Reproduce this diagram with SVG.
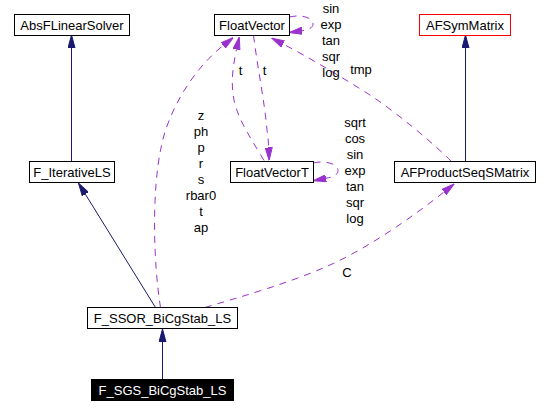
<svg xmlns="http://www.w3.org/2000/svg" width="549" height="414" viewBox="0 0 549 414">
<style>
text{font-family:"Liberation Sans",Arial,sans-serif;font-size:13px;fill:#000;text-anchor:middle}
.node rect{fill:#fff;stroke:#000;stroke-width:1}
.inh{fill:none;stroke:#191970;stroke-width:1;marker-end:url(#ah-inh)}
.col{fill:none;stroke:#9a32cd;stroke-width:1;stroke-dasharray:7,6;marker-end:url(#ah-col)}
</style>
<defs>
<marker id="ah-inh" markerUnits="userSpaceOnUse" viewBox="0 0 13 8" refX="0" refY="4" markerWidth="13" markerHeight="8" orient="auto">
<path d="M0,0.5 L13,4 L0,7.5 z" fill="#191970" stroke="#191970" stroke-width="1"/>
</marker>
<marker id="ah-col" markerUnits="userSpaceOnUse" viewBox="0 0 13 8" refX="0" refY="4" markerWidth="13" markerHeight="8" orient="auto">
<path d="M0,0.5 L13,4 L0,7.5 z" fill="#9a32cd" stroke="#9a32cd" stroke-width="1"/>
</marker>
</defs>
<rect x="0" y="0" width="549" height="414" fill="#fff"/>
<g id="connectors">
<path class="inh" d="M71.5,161 L71.5,48"/>
<path class="inh" d="M155.5,307.5 L85.3,194.1"/>
<path class="inh" d="M162.5,379 L162.5,342"/>
<path class="inh" d="M465.5,161 L465.5,48"/>
<path class="col" d="M160.5,307.5 C153,260 152,190 161,148 C167,115 190,72 223.2,45.5"/>
<path class="col" d="M264,160.5 C252,140 238,120 234,100 C231,85 232,70 236.5,49.5"/>
<path class="col" d="M253.5,35.5 C258,70 265,105 267,130 C268,137 268.5,142 268.7,147.5"/>
<path class="col" d="M289.5,17 C302,14 313,18 313,24 C313,28 308,30 302,30.8"/>
<path class="col" d="M313.5,163 C325,160 338,164 338,170.5 C338,175 333,177 326,178.3"/>
<path class="col" d="M451,161 C435,145 400,115 370,95 C340,76 310,58 283,44"/>
<path class="col" d="M205,307.5 C240,297 290,283 330,265 C370,247 415,215 444,192"/>
<text x="201" y="120">z</text>
<text x="201" y="136">ph</text>
<text x="201" y="152">p</text>
<text x="201" y="168">r</text>
<text x="201" y="184">s</text>
<text x="201" y="200">rbar0</text>
<text x="201" y="216">t</text>
<text x="201" y="232">ap</text>
<text x="240.5" y="75">t</text>
<text x="264.5" y="75">t</text>
<text x="331" y="13">sin</text>
<text x="331" y="29">exp</text>
<text x="331" y="45">tan</text>
<text x="331" y="61">sqr</text>
<text x="331" y="77">log</text>
<text x="355" y="127">sqrt</text>
<text x="355" y="143">cos</text>
<text x="355" y="159">sin</text>
<text x="355" y="175">exp</text>
<text x="355" y="191">tan</text>
<text x="355" y="207">sqr</text>
<text x="355" y="223">log</text>
<text x="361" y="74">tmp</text>
<text x="347" y="277">C</text>
</g>
<g id="AbsFLinearSolver" class="node"><rect x="14.5" y="14.5" width="115" height="21"/><text x="72" y="29.5">AbsFLinearSolver</text></g>
<g id="FloatVector" class="node"><rect x="214.5" y="14.5" width="75" height="21"/><text x="252" y="29.5">FloatVector</text></g>
<g id="AFSymMatrix" class="node"><rect x="419.5" y="14.5" width="91" height="21" style="stroke:#ff0000"/><text x="465" y="29.5">AFSymMatrix</text></g>
<g id="F_IterativeLS" class="node"><rect x="29.5" y="161.5" width="85" height="21"/><text x="72" y="176.5">F_IterativeLS</text></g>
<g id="FloatVectorT" class="node"><rect x="230.5" y="161.5" width="83" height="21"/><text x="272" y="176.5">FloatVectorT</text></g>
<g id="AFProductSeqSMatrix" class="node"><rect x="394.5" y="161.5" width="141" height="21"/><text x="465" y="176.5">AFProductSeqSMatrix</text></g>
<g id="F_SSOR_BiCgStab_LS" class="node"><rect x="87.5" y="307.5" width="150" height="21"/><text x="162.5" y="322.5">F_SSOR_BiCgStab_LS</text></g>
<g id="F_SGS_BiCgStab_LS" class="node"><rect x="91.5" y="379.5" width="142" height="21" style="fill:#000"/><text x="162.5" y="394.5" style="fill:#fff">F_SGS_BiCgStab_LS</text></g>
</svg>
